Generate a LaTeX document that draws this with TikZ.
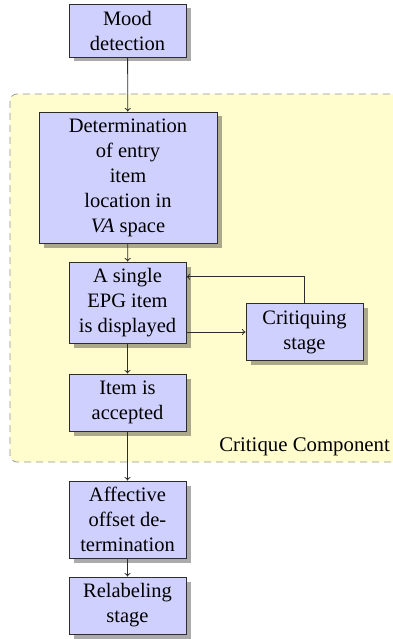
\documentclass[tikz,border=0pt]{standalone}
\usepackage{fontspec}
\setmainfont{Liberation Serif}
\usetikzlibrary{arrows.meta,shadows,calc}
\definecolor{boxfill}{RGB}{208,208,255}
\definecolor{groupfill}{RGB}{255,253,206}
\definecolor{linecol}{RGB}{45,45,45}
\tikzset{
  stepbox/.style={draw=linecol, line width=0.9pt, fill=boxfill, align=center,
    inner sep=0pt, minimum width=117pt,
    font=\fontsize{20.5}{25}\selectfont,
    drop shadow={shadow xshift=4.5pt, shadow yshift=-4.5pt, fill=black, opacity=0.33}},
  flow/.style={draw=linecol, line width=0.8pt, -{To[length=3.5pt,width=6pt]}},
  group/.style={draw=gray!85, dashed, dash pattern=on 7pt off 5pt, line width=0.7pt,
    fill=groupfill, rounded corners=7pt}
}
\begin{document}
\begin{tikzpicture}[x=1pt, y=-1pt]
  \useasboundingbox (0,0) rectangle (392,639);
  % dashed container of the critique stages
  \draw[group] (10,94) rectangle (398,462);
  \node[anchor=south east, inner sep=0pt, font=\fontsize{20.8}{25}\selectfont]
    (grouplabel) at (390,456) {Critique Component};

  \node[stepbox, minimum height=53pt] (mood) at (127.5,30.5) {Mood\\detection};
  \node[stepbox, minimum width=178pt, minimum height=131pt] (det) at (128,177.5)
    {Determination\\of entry\\item\\location in\\\textit{VA} space};
  \node[stepbox, minimum height=81pt] (single) at (127.5,302.5)
    {A single\\EPG item\\is displayed};
  \node[stepbox, minimum height=57pt] (crit) at (304.5,332)
    {Critiquing\\stage};
  \node[stepbox, minimum height=57pt] (acc) at (127.5,402.5) {Item is\\accepted};
  \node[stepbox, minimum height=77pt] (aff) at (127.5,519.5)
    {Affective\\offset de-\\termination};
  \node[stepbox, minimum height=57pt] (rel) at (127.5,605.5) {Relabeling\\stage};

  \coordinate (back) at ($(single.north east)!0.185!(single.south east)$);

  \draw[flow] (mood) -- (det);
  \draw[flow] (det) -- (single);
  \draw[flow] (single.east |- crit.west) -- (crit.west);
  \draw[flow] (crit.north) |- (back);
  \draw[flow] (single) -- (acc);
  \draw[flow] (acc) -- (aff);
  \draw[flow] (aff) -- (rel);
\end{tikzpicture}
\end{document}
